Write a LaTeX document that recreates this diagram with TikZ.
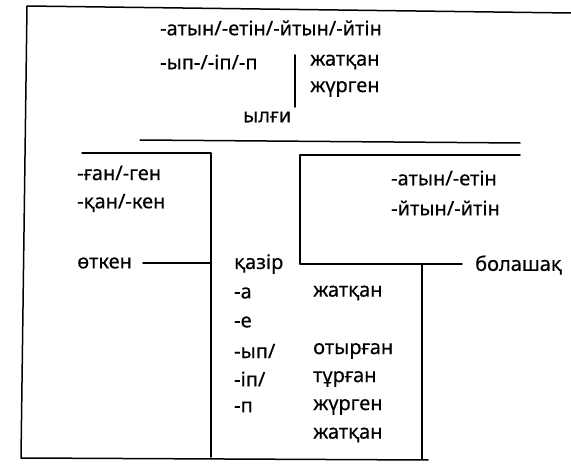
\documentclass[tikz,border=0pt]{standalone}
\usepackage{fontspec}
\setmainfont{Noto Sans}[FakeBold=0.4]
\begin{document}
\begin{tikzpicture}[x=1pt,y=-1pt,
  txt/.style={anchor=west,inner sep=0pt,font=\fontsize{20}{22}\selectfont\bfseries},
  ln/.style={line width=1.5pt,line cap=round,line join=round}]
\useasboundingbox (0,0) rectangle (571,465);
% outer frame
\coordinate (f1) at (571,13);
\coordinate (f2) at (27,6);
\coordinate (f3) at (21,458);
\coordinate (f4) at (428,460);
\draw[ln] (f1) -- (f2) -- (f3) -- (f4);
% top block
\node[txt] (t1) at (160,28) {-атын/-етін/-йтын/-йтін};
\node[txt] (t2) at (160,62) {-ып-/-іп/-п};
\node[txt] (t3) at (310,62) {жатқан};
\node[txt] (t4) at (310,89) {жүрген};
\node[txt] (t5) at (243,117) {ылғи};
\coordinate (b1) at (295,55);
\coordinate (b2) at (295,107);
\draw[ln] (b1) -- (b2);
\coordinate (h1) at (140,140);
\coordinate (h2) at (520,143);
\draw[ln] (h1) -- (h2);
% left box (past)
\coordinate (l1) at (82,153);
\coordinate (l2) at (211,153);
\coordinate (l3) at (211,457);
\draw[ln] (l1) -- (l2) -- (l3);
\node[txt] (p1) at (77,173) {-ған/-ген};
\node[txt] (p2) at (77,203) {-қан/-кен};
\node[txt] (p3) at (77,263) {өткен};
\coordinate (pa) at (143,263);
\coordinate (pl) at (211,263);
\draw[ln] (pa) -- (pl);
% right box (future)
\coordinate (r1) at (520,155);
\coordinate (r2) at (300,155);
\coordinate (r3) at (300,264);
\coordinate (r6) at (462,264);
\node[txt] (f0) at (475,265) {болашақ};
\draw[ln] (r1) -- (r2) -- (r3) -- (r6);
\coordinate (r4) at (422,264);
\coordinate (r5) at (422,459);
\draw[ln] (r4) -- (r5);
\node[txt] (q1) at (391,178) {-атын/-етін};
\node[txt] (q2) at (391,208) {-йтын/-йтін};
% present column
\node[txt] (c0) at (234,264) {қазір};
\node[txt] (c1) at (234,293) {-а};
\node[txt] (c2) at (313,293) {жатқан};
\node[txt] (c3) at (234,322) {-е};
\node[txt] (c4) at (234,351) {-ып/};
\node[txt] (c5) at (313,351) {отырған};
\node[txt] (c6) at (234,379) {-іп/};
\node[txt] (c7) at (313,379) {тұрған};
\node[txt] (c8) at (234,407) {-п};
\node[txt] (c9) at (313,407) {жүрген};
\node[txt] (c10) at (313,435) {жатқан};
\end{tikzpicture}
\end{document}
